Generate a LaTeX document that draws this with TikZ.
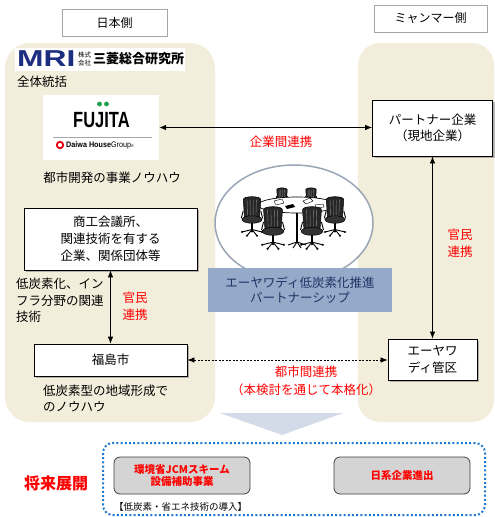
\documentclass[tikz,border=0pt]{standalone}
\usepackage{fontspec}
\usepackage{graphicx}
\setmainfont{Noto Sans CJK JP}
\newfontfamily\latinsans{Liberation Sans}
\usetikzlibrary{arrows.meta,shadows,calc}

\definecolor{panel}{HTML}{F3EDDB}
\definecolor{sidegray}{HTML}{A6A6A6}
\definecolor{pshipfill}{HTML}{95AAC8}
\definecolor{pshiptext}{HTML}{1F3366}
\definecolor{ringgray}{HTML}{9AA6B6}
\definecolor{flowfill}{HTML}{D3DBE8}
\definecolor{futureblue}{HTML}{1D78D0}
\definecolor{boxgray}{HTML}{D4D4D4}
\definecolor{mrinavy}{HTML}{1C2E80}
\definecolor{fujigreen}{HTML}{1FA04A}
\definecolor{daiwared}{HTML}{E60012}
\definecolor{linkred}{HTML}{FF0000}

% one office chair, top of the backrest at (0,0), y grows downward
\newcommand{\officechair}[3]{%
  \begin{scope}[shift={(#1,#2)}, scale=#3]
    \draw[line width=1.1pt] (0,20) -- (0,26);
    \foreach \bx/\by in {-8/28,8/28,-4/31,4/31,0/27.5}
      {\draw[line width=0.9pt] (0,26) -- (\bx,\by);
       \fill (\bx,\by) circle[radius=0.9pt];}
    \filldraw[fill=black!85, line width=0.5pt] (-7,2) .. controls (-7,-1) and (7,-1) .. (7,2)
      -- (6,16) .. controls (4,18) and (-4,18) .. (-6,16) -- cycle;
    \foreach \sx in {-4,-1.5,1,3.5}
      {\draw[black!45, line width=0.4pt] (\sx,2) -- (0.9*\sx,15);}
    \filldraw[fill=black!80, line width=0.5pt] (0,18) ellipse[x radius=8, y radius=3];
    \draw[line width=0.9pt] (-7,11) -- (-8.5,17);
    \draw[line width=0.9pt] (7,11) -- (8.5,17);
  \end{scope}}

\tikzset{
  side/.style={draw=sidegray, fill=white, line width=0.8pt, minimum height=27pt,
    inner sep=0pt, font=\fontsize{12}{14}\selectfont},
  actor/.style={draw=black, fill=white, line width=0.8pt, align=center, inner sep=0pt,
    drop shadow={shadow xshift=2pt, shadow yshift=-2pt, fill=black!50, opacity=0.55},
    font=\fontsize{12.5}{17}\selectfont},
  link/.style={line width=0.8pt, {Latex[length=7pt,width=5.5pt]}-{Latex[length=7pt,width=5.5pt]}},
  redlabel/.style={text=linkred, align=center, inner sep=0pt, font=\fontsize{12.5}{17}\selectfont},
  note/.style={align=left, inner sep=0pt, anchor=west, font=\fontsize{12.5}{16.5}\selectfont},
  future/.style={draw=black!75, fill=boxgray, rounded corners=6pt, line width=0.8pt,
    minimum width=136pt, minimum height=37pt, text=linkred, align=center, inner sep=0pt,
    font=\fontsize{10.5}{12}\selectfont\bfseries}
}

\begin{document}
\begin{tikzpicture}[x=1pt,y=-1pt]
\useasboundingbox (0,0) rectangle (495,517);
\fill[white] (0,0) rectangle (495,517);

% side headings
\node[side, minimum width=105pt] (jp) at (114.5,22.5) {日本側};
\node[side, minimum width=113pt] (mm) at (430.5,18.5) {ミャンマー側};

% transition arrow towards the future outlook
\fill[flowfill] (220,413) -- (343,413) -- (282,435) -- cycle;

% background panels
\fill[panel, rounded corners=25pt] (5,43) rectangle (215,422);
\fill[panel, rounded corners=22pt] (358,43) rectangle (494,422);

% MRI logo
\fill[white] (15,48) rectangle (185,71);
\node[anchor=west, inner sep=0pt, text=mrinavy] (mri) at (17,59)
  {\latinsans\bfseries\fontsize{23}{23}\selectfont\scalebox{1.38}[1]{MRI}};
\node[inner sep=0pt, align=center, font=\fontsize{6.5}{8}\selectfont] (kk) at (84.5,59) {株式\\会社};
\node[anchor=west, inner sep=0pt, font=\fontsize{13}{13}\selectfont\bfseries] (mriname) at (93,59) {三菱総合研究所};
\node[anchor=west, inner sep=0pt, font=\fontsize{12.5}{15}\selectfont] (lead) at (17,82) {全体統括};

% FUJITA / Daiwa House Group logo
\node[fill=white, minimum width=116pt, minimum height=65pt, inner sep=0pt] (fujita) at (101,127.5) {};
\node[inner sep=0pt, font=\latinsans\bfseries\fontsize{22}{22}\selectfont] (fujitaword) at (101.5,120)
  {\scalebox{0.75}[1]{FUJITA}};
\fill[fujigreen] (99.5,104) circle[radius=2.4pt];
\fill[fujigreen] (106.5,104) circle[radius=2.4pt];
\draw[black!35, line width=0.6pt] (53,137) -- (152,137);
\draw[daiwared, line width=1.8pt] (60,145) circle[radius=3.2pt];
\node[anchor=west, inner sep=0pt, font=\latinsans\fontsize{8}{8}\selectfont] (daiwa) at (66,145)
  {\scalebox{0.9}[1]{\textbf{Daiwa House}Group\raisebox{0pt}{\fontsize{4}{4}\selectfont ®}}};
\node[inner sep=0pt, font=\fontsize{12.5}{15}\selectfont] (knowhow) at (112,178) {都市開発の事業ノウハウ};

% meeting scene
\draw[ringgray, line width=1.5pt, fill=white] (294,223) ellipse[x radius=79pt, y radius=58pt];
\officechair{282}{188}{0.75}
\officechair{311}{188}{0.75}
\draw[line width=1.2pt] (297,213) -- (297,242);
\foreach \bx/\by in {-9/245,9/245,-4/248,4/248}
  {\draw[line width=0.9pt] (297,242) -- ($(297,0)+(\bx,\by)$);}
\filldraw[fill=white, line width=0.7pt] (297,205) ellipse[x radius=39pt, y radius=8pt];
\draw[fill=white, line width=0.4pt] (274,201) -- (282,199) -- (284,203) -- (276,205) -- cycle;
\fill (285,206) -- (293,204) -- (295,207) -- (287,209) -- cycle;
\draw[fill=white, line width=0.4pt] (303,201) -- (310,198) -- (313,201) -- (306,204) -- cycle;
\draw[fill=white, line width=0.4pt] (315,205) -- (323,204) -- (324,207) -- (316,208) -- cycle;
\officechair{252}{197}{1.25}
\officechair{335}{197}{1.25}
\officechair{273}{207}{1.35}
\officechair{312}{207}{1.35}

% partnership banner
\node[fill=pshipfill, minimum width=184pt, minimum height=44pt, inner sep=0pt, text=pshiptext,
  align=center, font=\fontsize{12.5}{14.5}\selectfont] (pship) at (300,290)
  {エーヤワディ低炭素化推進\\パートナーシップ};

% actors
\node[actor, minimum width=120pt, minimum height=56pt, font=\fontsize{12.5}{15.5}\selectfont]
  (partner) at (432.5,128) {パートナー企業\\（現地企業）};
\node[actor, minimum width=89pt, minimum height=41pt] (aye) at (432.5,359.5) {エーヤワ\\ディ管区};
\node[actor, minimum width=173pt, minimum height=62pt] (cci) at (110.5,239) {商工会議所、\\関連技術を有する\\企業、関係団体等};
\node[actor, minimum width=153pt, minimum height=32pt] (fuku) at (110.5,360) {福島市};

% connections
\draw[link] (fujita.east) -- (fujita.east -| partner.west);
\draw[link] (partner.south) -- (aye.north);
\draw[link] (cci.south) -- (fuku.north);
\draw[link, line width=0.7pt, dash pattern=on 2pt off 1.5pt] (fuku.east) -- (fuku.east -| aye.west);

% connection labels
\node[redlabel] (l1) at (281,142) {企業間連携};
\node[redlabel] (l2) at (460,243.5) {官民\\連携};
\node[redlabel] (l3) at (135,306) {官民\\連携};
\node[redlabel, font=\fontsize{12.5}{18}\selectfont] (l4) at (306,381) {都市間連携\\（本検討を通じて本格化）};

% side notes
\node[note] (n1) at (16,300.5) {低炭素化、イン\\フラ分野の関連\\技術};
\node[note] (n2) at (43,398.5) {低炭素型の地域形成で\\のノウハウ};

% future outlook
\draw[futureblue, line width=2pt, dash pattern=on 2pt off 2.2pt, rounded corners=10pt] (103,443) rectangle (485,515);
\node[future] (jcm) at (182,475.5) {環境省JCMスキーム\\設備補助事業};
\node[future] (jpn) at (402,475.5) {日系企業進出};
\node[anchor=west, inner sep=0pt, font=\fontsize{9.5}{10}\selectfont] (intro) at (114,507) {【低炭素・省エネ技術の導入】};
\node[text=linkred, inner sep=0pt, font=\fontsize{16}{16}\selectfont\bfseries] (outlook) at (56,483) {将来展開};
\end{tikzpicture}
\end{document}
